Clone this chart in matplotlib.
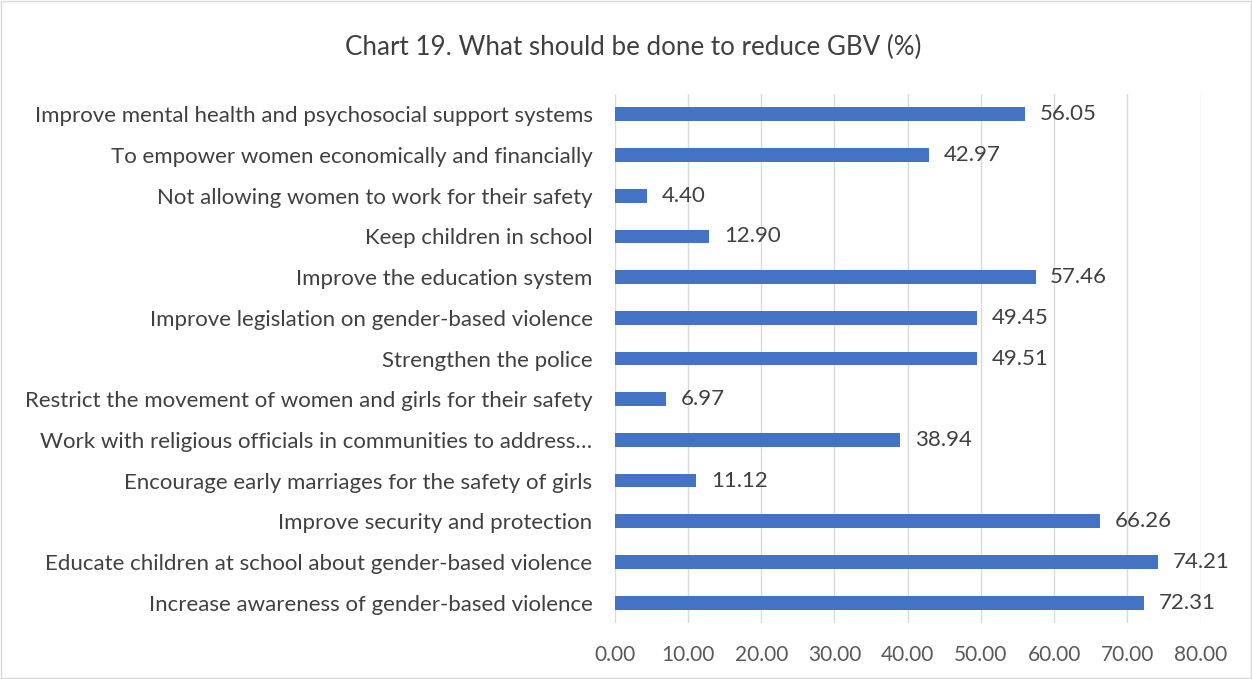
import matplotlib
matplotlib.use("Agg")
import matplotlib.pyplot as plt

categories = [
    "Improve mental health and psychosocial support systems",
    "To empower women economically and financially",
    "Not allowing women to work for their safety",
    "Keep children in school",
    "Improve the education system",
    "Improve legislation on gender-based violence",
    "Strengthen the police",
    "Restrict the movement of women and girls for their safety",
    "Work with religious officials in communities to address\u2026",
    "Encourage early marriages for the safety of girls",
    "Improve security and protection",
    "Educate children at school about gender-based violence",
    "Increase awareness of gender-based violence",
]
values = [56.05, 42.97, 4.40, 12.90, 57.46, 49.45, 49.51, 6.97, 38.94, 11.12, 66.26, 74.21, 72.31]
xticks = [0, 10, 20, 30, 40, 50, 60, 70, 80]

plt.rcParams["font.family"] = ["Lato", "DejaVu Sans"]
txt = "#595959"

fig = plt.figure(figsize=(12.52, 6.79), dpi=100)
ax = fig.add_axes([0.491, 0.0825, 0.468, 0.779])

ypos = list(range(len(categories)))[::-1]
ax.barh(ypos, values, height=0.34, color="#4472C4", zorder=3)
for y, v in zip(ypos, values):
    ax.text(v + 2.0, y, f"{v:.2f}", va="center", ha="left", fontsize=16, color="#404040")

ax.set_ylim(-0.5, len(categories) - 0.5)
ax.set_xlim(0, 80)
ax.set_yticks(ypos)
ax.set_yticklabels(categories, fontsize=16, color="#404040")
ax.set_xticks(xticks)
ax.set_xticklabels([f"{t:.2f}" for t in xticks], fontsize=15, color=txt)
ax.tick_params(axis="y", length=0, pad=16)
ax.tick_params(axis="x", length=0, pad=16)
ax.grid(axis="x", color="#D9D9D9", linewidth=1, zorder=0)
for s in ax.spines.values():
    s.set_visible(False)

fig.text(0.5056, 0.93, "Chart 19. What should be done to reduce GBV (%)", ha="center", va="center",
         fontsize=18.7, color="#404040")
fig.patches.append(plt.Rectangle((0.001, 0.001), 0.998, 0.998, transform=fig.transFigure,
                                 fill=False, edgecolor="#D9D9D9", linewidth=1))

fig.savefig("out.png", dpi=100)
